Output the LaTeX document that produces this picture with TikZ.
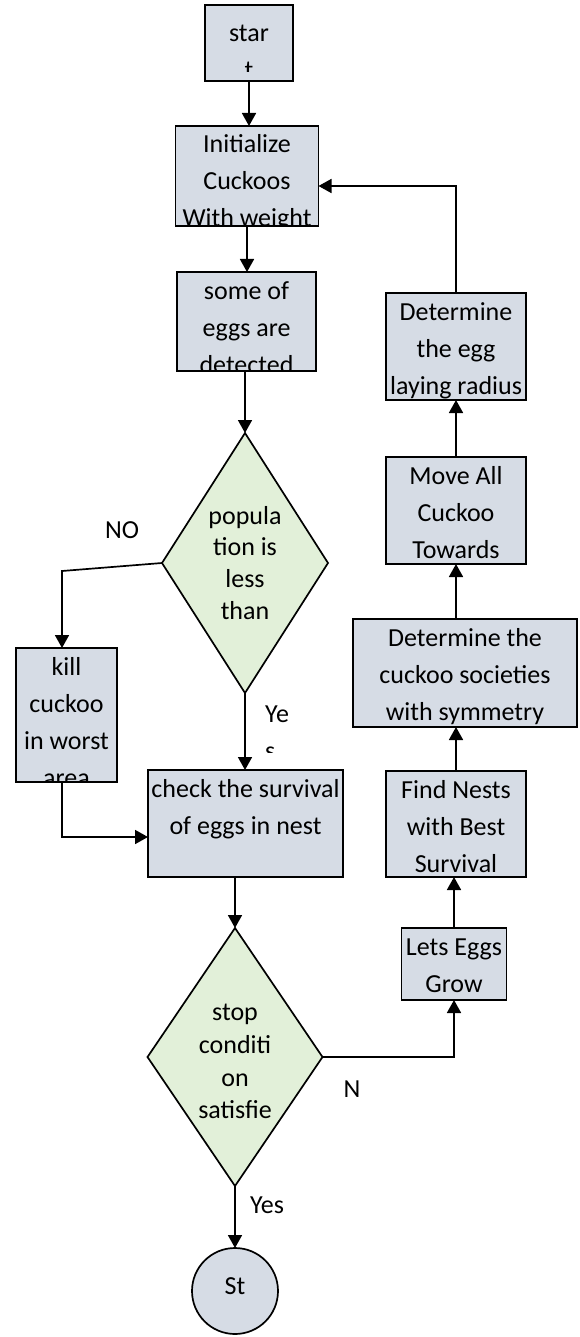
\documentclass[tikz,border=0pt]{standalone}
\usepackage{fontspec}
\setmainfont{Carlito}
\usetikzlibrary{shapes.geometric,arrows.meta}
\definecolor{boxfill}{HTML}{D6DCE5}
\definecolor{decfill}{HTML}{E2F0D9}
\tikzset{
  txt/.style={rectangle, minimum width=0pt, minimum height=0pt, draw=none, fill=none,
    font=\fontsize{26}{37}\selectfont, align=center, inner sep=0pt, anchor=north},
  dtxt/.style={txt, font=\fontsize{26}{32.7}\selectfont},
  inside/.style 2 args={path picture={\node[txt] at ([yshift=-#1]path picture bounding box.north) {\rule{0pt}{21pt}#2};}},
  box/.style={draw, fill=boxfill, line width=1.7pt, inner sep=0pt, outer sep=0pt},
  decision/.style={diamond, draw, fill=decfill, line width=1.7pt, inner sep=0pt, outer sep=0pt},
  arr/.style={line width=1.7pt, -{Triangle[length=13pt,width=14pt]}}
}
\begin{document}
\begin{tikzpicture}[x=1pt, y=-1pt]
 \useasboundingbox (0,0) rectangle (579,1337);
 % left column
 \node (start) [box, minimum width=88pt, minimum height=76pt,
   path picture={\clip (path picture bounding box.north west) rectangle ([yshift=9pt]path picture bounding box.south east);
     \node[txt] at ([yshift=-16pt]path picture bounding box.north) {\rule{0pt}{21pt}star\\t};}] at (249,43) {};
 \node (init)   [box, minimum width=143pt, minimum height=100pt, inside={6pt}{Initialize\\Cuckoos\\With weight}] at (247,176) {};
 \node (some)   [box, minimum width=139pt, minimum height=99pt, inside={6pt}{some of\\eggs are\\detected}] at (246.5,321.5) {};
 \node (d1)     [decision, minimum width=166pt, minimum height=260pt] at (245,563) {};
 \node (d1text) [dtxt, font=\fontsize{26}{31.7}\selectfont] at ([yshift=-73pt]d1.north) {popula\\tion is\\less\\than};
 \node (kill)   [box, minimum width=101pt, minimum height=134pt, inside={6pt}{kill\\cuckoo\\in worst\\area}] at (66.5,715) {};
 \node (check)  [box, minimum width=195pt, minimum height=107pt, inside={6pt}{check the survival\\of eggs in nest}] at (245.5,823.5) {};
 \node (d2)     [decision, minimum width=175pt, minimum height=258pt] at (235,1057) {};
 \node (d2text) [dtxt] at ([yshift=-76pt]d2.north) {stop\\conditi\\on\\satisfie};
 \node (stop)   [box, circle, minimum size=86pt, inside={25pt}{St}] at (235,1291) {};
 % right column
 \node (lets)   [box, minimum width=105pt, minimum height=72pt, inside={6pt}{Lets Eggs\\Grow}] at (454,964) {};
 \node (find)   [box, minimum width=140pt, minimum height=106pt, inside={6pt}{Find Nests\\with Best\\Survival}] at (456,824) {};
 \node (soc)    [box, minimum width=224pt, minimum height=108pt, inside={6pt}{Determine the\\cuckoo societies\\with symmetry}] at (465,673) {};
 \node (move)   [box, minimum width=140pt, minimum height=107pt, inside={6pt}{Move All\\Cuckoo\\Towards}] at (456,510.5) {};
 \node (radius) [box, minimum width=140pt, minimum height=107pt, inside={6pt}{Determine\\the egg\\laying radius}] at (456,346.5) {};
 % labels
 \node (nolabel) [txt, anchor=base] at (122,538) {NO};
 \node (yeslabel) [fill=white, inner sep=0pt, minimum width=40pt, minimum height=57pt,
   path picture={\node[txt, align=left, anchor=north west] at ([xshift=3pt,yshift=-6pt]path picture bounding box.north west) {\rule{0pt}{21pt}Ye\\s};}] at (282,723.5) {};
 \node (nlabel) [txt, anchor=base] at (352,1097) {N};
 \node (yes2label) [txt, anchor=base] at (267,1213) {Yes};
 \coordinate (nobend) at (62,571);
 \coordinate (killbend) at (62,837);
 \coordinate (backbend) at (454,186);
 \draw[arr] (start.south) -- (start.south |- init.north);
 \draw[arr] (init.south) -- (init.south |- some.north);
 \draw[arr] (d1.north |- some.south) -- (d1.north);
 \draw[arr] (d1.west) -- (nobend) -- (nobend |- kill.north);
 \draw[arr] (d1.south) -- (d1.south |- check.north);
 \draw[arr] (kill.south -| killbend) -- (killbend) -- (killbend -| check.west);
 \draw[arr] (d2.north |- check.south) -- (d2.north);
 \draw[arr] (d2.south) -- (stop.north);
 \draw[arr] (d2.east) -| (lets.south);
 \draw[arr] (lets.north) -- (lets.north |- find.south);
 \draw[arr] (find.north) -- (find.north |- soc.south);
 \draw[arr] (move.south |- soc.north) -- (move.south);
 \draw[arr] (move.north) -- (radius.south);
 \draw[arr] (radius.north) -- (radius.north |- backbend) -- (backbend -| init.east);
\end{tikzpicture}
\end{document}
